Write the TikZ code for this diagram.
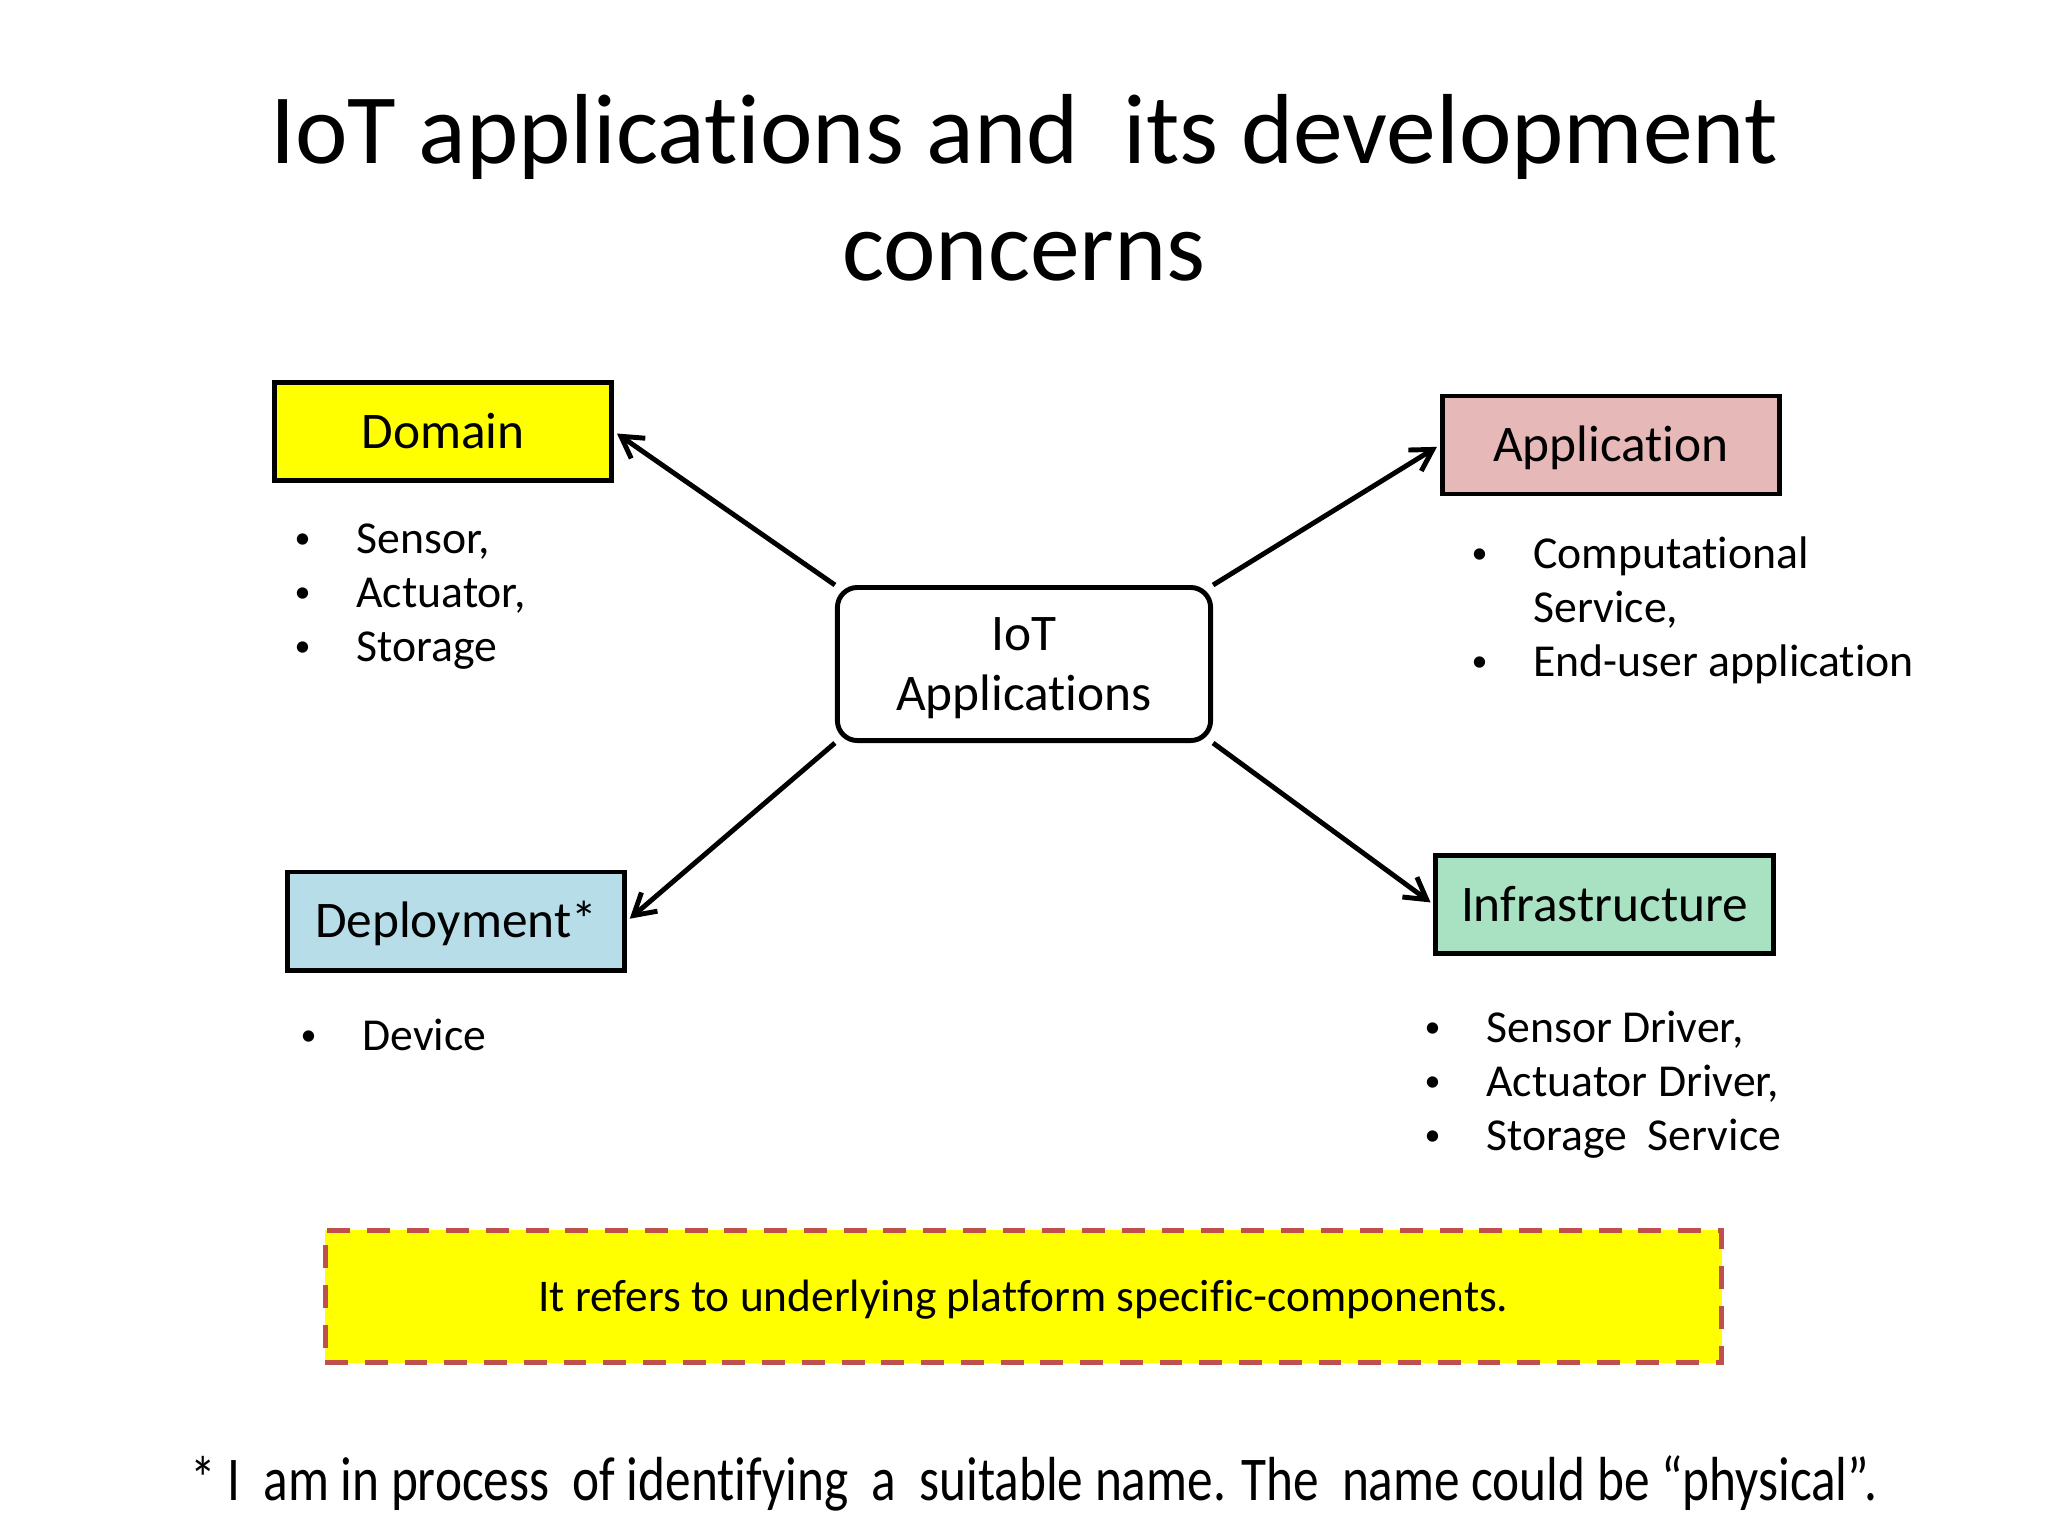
\documentclass[tikz,border=0pt]{standalone}
\usepackage{fontspec}
\setmainfont{Carlito}[Ligatures = NoCommon]
\usetikzlibrary{arrows.meta}

\definecolor{domainyellow}{HTML}{FFFF00}
\definecolor{apppink}{HTML}{E6B9B8}
\definecolor{deployblue}{HTML}{B7DEE8}
\definecolor{infragreen}{HTML}{A8E2C2}
\definecolor{dashred}{HTML}{C0504D}

\newcommand{\itembul}{\makebox[17.9pt][l]{\hspace*{0.3pt}\raisebox{1.3pt}{\scalebox{0.7}{\textbullet}}}}
\newcommand{\concernlist}[1]{\begin{tabular}[t]{@{}l@{}}#1\end{tabular}}

\begin{document}
\begin{tikzpicture}[
    x = 0.01cm, % one unit per pixel
    y = -0.01cm, % y grows downwards
    > = {Straight Barb[length=6pt,width=7pt]}, % arrow head style
    shorten > = 1pt, % don't touch arrow head to node
    line width = 1.4pt % line style
    ]

    \tikzset{
    concern/.style={draw = black, minimum width = 3.37cm, minimum height = 0.98cm,
        inner sep = 0pt, font = \fontsize{14.6}{17}\selectfont,
        text height = 9.4pt, text depth = 0pt},
    iotbox/.style={draw = black, rounded corners = 0.2cm, minimum width = 3.73cm,
        minimum height = 1.53cm, align = center,
        font = \fontsize{14.6}{17}\selectfont, text depth = 0pt},
    notebox/.style={fill = domainyellow, draw = dashred, dash pattern = on 6.5pt off 4.8pt,
        minimum width = 13.96cm, minimum height = 1.32cm,
        font = \fontsize{12.9}{15}\selectfont, text height = 8.3pt, text depth = 0pt},
    itemtext/.style={anchor = base west, inner sep = 0pt,
        font = \fontsize{13}{15.4}\selectfont}
    }

    \fill[white] (0,0) rectangle (2048,1536);
    \useasboundingbox (0,0) rectangle (2048,1536);

    % title
    \node[anchor = base, inner sep = 0pt, font = \fontsize{28.3}{33.3}\selectfont] (title) at (1024,163)
        {\begin{tabular}[t]{@{}c@{}}IoT applications and~ its development\\concerns\end{tabular}};

    \node[iotbox] (iot) at (1024,664) {IoT\\Applications};
    \node[concern, fill = domainyellow] (domain) at (443,431.5) {Domain};
    \node[concern, fill = apppink] (application) at (1611,445) {Application};
    \node[concern, fill = deployblue] (deployment) at (456,921) {Deployment*};
    \node[concern, fill = infragreen] (infrastructure) at (1604.5,904.5) {Infrastructure};

    \node[itemtext] (domainlist) at (291,553)
        {\concernlist{\itembul Sensor,\\ \itembul Actuator,\\ \itembul Storage}};
    \node[itemtext] (applist) at (1468,568)
        {\concernlist{\itembul Computational\\ \hspace*{17.9pt}Service,\\ \itembul End-user application}};
    \node[itemtext] (deploylist) at (297,1050) {\concernlist{\itembul Device}};
    \node[itemtext] (infralist) at (1421,1042)
        {\concernlist{\itembul Sensor Driver,\\ \itembul Actuator Driver,\\ \itembul Storage~ Service}};

    \draw[->] (iot.north west) -- (domain.east);
    \draw[->] (iot.north east) -- (application.west);
    \draw[->] (iot.south west) -- (deployment.east);
    \draw[->] (iot.south east) -- (infrastructure.west);

    \node[notebox] (note) at (1023.5,1296.5) {It refers to underlying platform specific-components.};

    % footnote on the starred name
    \node[anchor = base, inner sep = 0pt, font = \fontsize{17.7}{20}\selectfont] (footnote) at (1034,1500)
        {\scalebox{0.824}[1]{* I~ am in process~ of identifying~ a~ suitable name. The~ name could be “physical”.}};
\end{tikzpicture}
\end{document}
